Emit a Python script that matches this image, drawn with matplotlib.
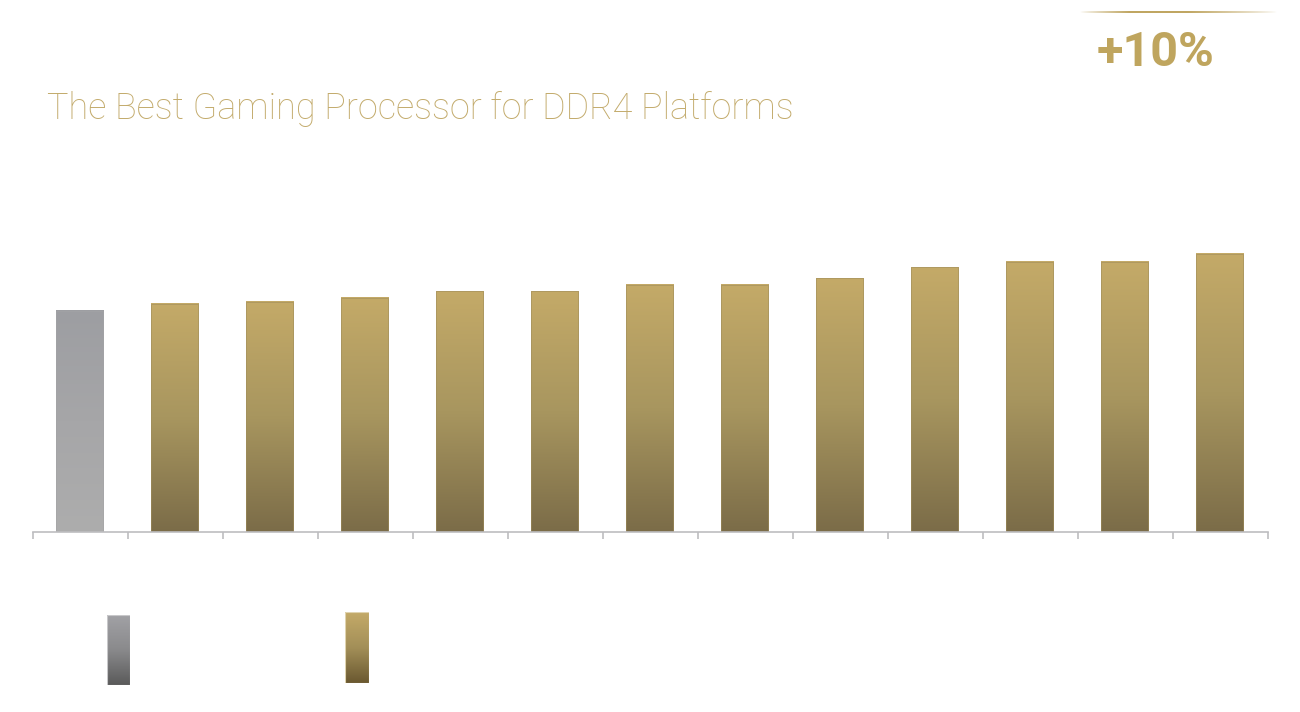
import numpy as np
import matplotlib
matplotlib.use("Agg")
import matplotlib.pyplot as plt
from matplotlib.colors import LinearSegmentedColormap

# ---- data ----
categories = ["Baseline", "G1", "G2", "G3", "G4", "G5", "G6", "G7", "G8", "G9", "G10", "G11", "G12"]
values = [100, 103.2, 104.1, 105.9, 109.0, 109.0, 111.8, 111.8, 114.9, 119.9, 122.2, 122.2, 125.8]
series_kind = ["base"] + ["amd"] * 12
title_text = "The Best Gaming Processor for DDR4 Platforms"
callout_text = "+10%"

W, H = 1300, 712
fig = plt.figure(figsize=(W / 100, H / 100), dpi=100)
fig.patch.set_facecolor("white")

def fx(px):
    return px / W

def fy(py):
    return 1 - py / H

ax_left, ax_right = 33, 1268
ax_bottom, ax_top = 532, 150
ax = fig.add_axes([fx(ax_left), fy(ax_bottom), fx(ax_right - ax_left), (ax_bottom - ax_top) / H])
ylim_top = 100 * (ax_bottom - ax_top) / 221.0

gold_cmap = LinearSegmentedColormap.from_list("gold", ["#7B6C48", "#A8965F", "#C4AA68"])
gray_cmap = LinearSegmentedColormap.from_list("grayb", ["#ADADAD", "#A6A6A8", "#9D9EA2"])

x = np.arange(len(categories))
bars = ax.bar(x - 0.01, values, width=0.5, color="none", edgecolor="none", zorder=3)
grad = np.linspace(0, 1, 256).reshape(-1, 1)
for b, kind in zip(bars, series_kind):
    cmap = gold_cmap if kind == "amd" else gray_cmap
    x0, w, h = b.get_x(), b.get_width(), b.get_height()
    ax.imshow(grad, cmap=cmap, aspect="auto", origin="lower",
              extent=[x0, x0 + w, 0, h], zorder=2, interpolation="bilinear")
    edge = "#A08E5C" if kind == "amd" else "#A4A4A6"
    ax.add_patch(plt.Rectangle((x0, 0), w, h, fill=False, edgecolor=edge, linewidth=0.4, zorder=4))
ax.set_xlim(-0.5, len(categories) - 0.5)
ax.set_ylim(0, ylim_top)

for s in ["top", "right", "left"]:
    ax.spines[s].set_visible(False)
ax.spines["bottom"].set_color("#BDBDC0")
ax.spines["bottom"].set_linewidth(1.2)
ax.spines["bottom"].set_zorder(5)
ax.set_yticks([])
ax.set_xticks(np.arange(-0.5, len(categories), 1.0))
ax.set_xticklabels([])
ax.tick_params(axis="x", direction="out", length=5, width=1.2, color="#BDBDC0")

# ---- title ----
t = fig.text(fx(47), fy(119), title_text, color="#C3AB6C", fontsize=28,
             family="Roboto", fontweight="light", ha="left", va="baseline")
fig.canvas.draw()
r = fig.canvas.get_renderer()
bb = t.get_window_extent(r)
t.set_fontsize(28 * 746 / bb.width)

# ---- callout ----
c = fig.text(fx(1097), fy(66), callout_text, color="#BFA55E", fontsize=33,
             family="Roboto", fontweight="bold", ha="left", va="baseline")
fig.canvas.draw()
bb = c.get_window_extent(r)
c.set_fontsize(33 * 118 / bb.width)

# gradient line above callout
lax = fig.add_axes([fx(1080), fy(14), fx(197), 4 / H])
lax.axis("off")
n = 300
xs = np.linspace(0, 1, n)
alpha = np.clip(np.minimum(xs / 0.25, (1 - xs) / 0.45), 0, 1) ** 0.8
rgba = np.zeros((1, n, 4))
rgba[..., 0] = 0xC0 / 255
rgba[..., 1] = 0xA6 / 255
rgba[..., 2] = 0x62 / 255
rgba[..., 3] = alpha
lax.imshow(rgba, aspect="auto", extent=[0, 1, 0, 1])
lax.set_xlim(0, 1)
lax.set_ylim(-0.5, 1.5)

# ---- legend swatches ----
def swatch(px0, py0, px1, py1, colors, edge):
    a = fig.add_axes([fx(px0), fy(py1), fx(px1 - px0), (py1 - py0) / H])
    a.axis("off")
    cm = LinearSegmentedColormap.from_list("sw", colors)
    a.imshow(grad, cmap=cm, aspect="auto", origin="lower", extent=[0, 1, 0, 1])
    a.add_patch(plt.Rectangle((0, 0), 1, 1, fill=False, edgecolor=edge, linewidth=0.8))
    a.set_xlim(0, 1)
    a.set_ylim(0, 1)

swatch(107, 615, 130, 685, ["#5A5A5A", "#8A8A8C", "#A2A2A6"], "#C8C8CA")
swatch(345, 612, 369, 683, ["#6A5830", "#A38F58", "#C4AA68"], "#E0D4B0")

fig.savefig("out.png", dpi=100, facecolor="white")
